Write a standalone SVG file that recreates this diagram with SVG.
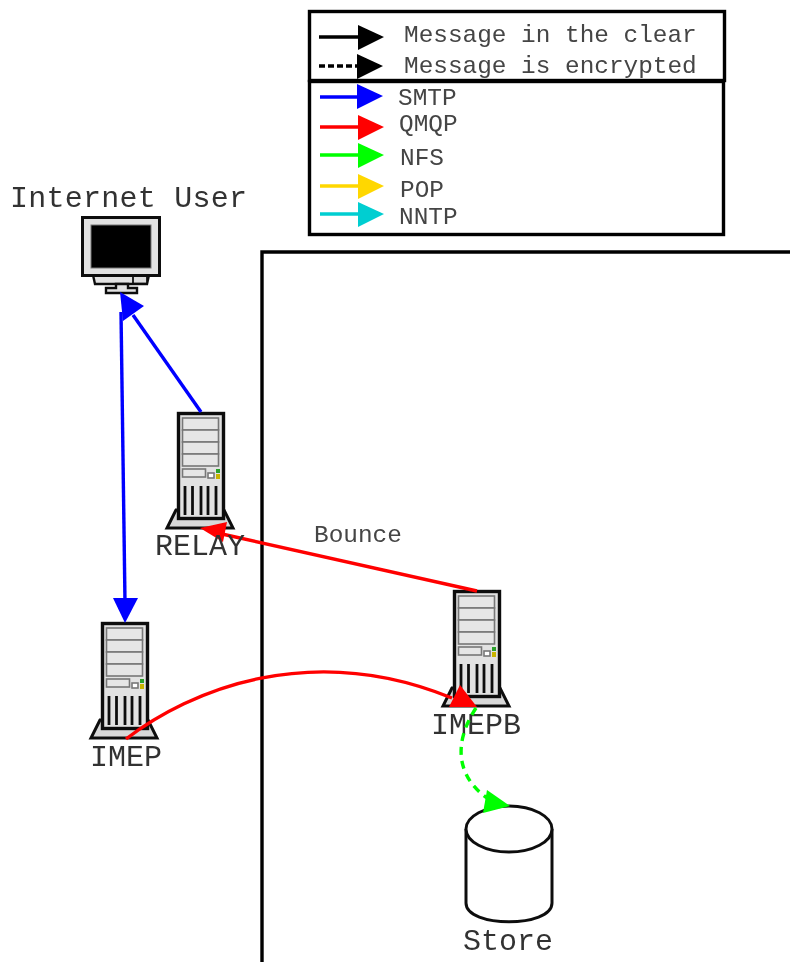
<svg xmlns="http://www.w3.org/2000/svg" xmlns:xlink="http://www.w3.org/1999/xlink" width="790" height="962" viewBox="0 0 790 962">
<style>
text{font-family:"Liberation Mono","DejaVu Sans Mono",monospace;fill:#333}
.lg{font-size:24.4px;fill:#444}
.nm{font-size:30px}
.box{fill:none;stroke:#000;stroke-width:3.400}
.ln{fill:none;stroke-width:3.400}
.o{stroke:#111;stroke-width:2.400;fill:#e2e2e2}
.t{stroke:#111;stroke-width:3.400;fill:#e2e2e2}
.b{stroke:#777;stroke-width:1.600;fill:#e6e6e6}
.s{stroke:#111;stroke-width:2.800;fill:none}
</style>
<defs>
<filter id="soft" x="0" y="0" width="100%" height="100%"><feGaussianBlur stdDeviation="0.45"/></filter>
<g id="server">
<path d="M-1 98L-10 116H56L47 98Z" fill="#d8d8d8" stroke="#111" stroke-width="3"/>
<rect class="t" x="1.500" y="1.500" width="45" height="105"/>
<rect class="b" x="5.500" y="6" width="36" height="12"/>
<rect class="b" x="5.500" y="18" width="36" height="12"/>
<rect class="b" x="5.500" y="30" width="36" height="12"/>
<rect class="b" x="5.500" y="42" width="36" height="12"/>
<rect class="b" x="5.500" y="57" width="23" height="8"/>
<rect class="b" x="31" y="61" width="6" height="5" style="fill:#fff"/>
<rect x="39" y="57" width="4" height="4" fill="#2ca02c"/>
<rect x="39" y="62" width="4" height="5" fill="#c8b400"/>
<path class="s" d="M8 74V103M15.500 74V103M24 74V103M31 74V103M39 74V103"/>
</g>
</defs>
<g filter="url(#soft)">
<rect width="790" height="962" fill="#fff"/>
<g id="network-zone"><path class="box" d="M262 962V252H790"/></g>
<g id="legend-security">
<rect class="box" x="309.500" y="11.500" width="415" height="69"/>
<path class="ln" stroke="#000" d="M319 37H360"/><path d="M358 25L384 37L358 50Z" fill="#000"/>
<path class="ln" stroke="#000" stroke-dasharray="6 3" d="M319 66H358"/><path d="M357 54L383 66L357 79Z" fill="#000"/>
<text class="lg" x="404" y="42">Message in the clear</text>
<text class="lg" x="404" y="73">Message is encrypted</text>
</g>
<g id="legend-protocols">
<rect class="box" x="309.500" y="81.500" width="414" height="153"/>
<path class="ln" stroke="#00f" d="M320 97H360"/><path d="M357 84L383 96L357 109Z" fill="#00f"/>
<path class="ln" stroke="#f00" d="M320 127H360"/><path d="M358 115L384 127L358 140Z" fill="#f00"/>
<path class="ln" stroke="#0f0" d="M320 155H360"/><path d="M358 143L384 155L358 168Z" fill="#0f0"/>
<path class="ln" stroke="#ffd700" d="M320 186H360"/><path d="M358 174L384 186L358 199Z" fill="#ffd700"/>
<path class="ln" stroke="#00ced1" d="M320 214H360"/><path d="M358 202L384 214L358 227Z" fill="#00ced1"/>
<text class="lg" x="398" y="105">SMTP</text>
<text class="lg" x="399" y="131">QMQP</text>
<text class="lg" x="400" y="165">NFS</text>
<text class="lg" x="400" y="197">POP</text>
<text class="lg" x="399" y="224">NNTP</text>
</g>
<g id="internet-user">
<text class="nm" x="10" y="207" textLength="237" lengthAdjust="spacing">Internet User</text>
<path class="o" d="M93 275L95 284H147L149 275Z"/>
<rect x="133" y="276" width="14" height="7.500" fill="#ddd" stroke="#111" stroke-width="1.800"/>
<path class="o" d="M106 293V288H116V284H128V288H137V293Z"/>
<rect x="82.500" y="217.500" width="77" height="58" fill="#e2e2e2" stroke="#111" stroke-width="3"/>
<rect x="91" y="225" width="60" height="43" fill="#000" stroke="#777" stroke-width="1"/>
</g>
<g id="relay"><use xlink:href="#server" href="#server" x="177" y="412"/></g>
<g id="imep"><use xlink:href="#server" href="#server" x="101" y="622"/><text class="nm" x="90" y="766">IMEP</text></g>
<g id="imepb"><use xlink:href="#server" href="#server" x="453" y="590"/><text class="nm" x="431" y="734">IMEPB</text></g>
<g id="store">
<path d="M466 829V903C466 928 552 928 552 903V829" fill="#fff" stroke="#111" stroke-width="3"/>
<ellipse cx="509" cy="829" rx="43" ry="23" fill="#fff" stroke="#111" stroke-width="3"/>
<text class="nm" x="463" y="950">Store</text>
</g>
<g id="connectors">
<path class="ln" stroke="#00f" d="M201 412L133 315"/><path d="M120 292L144 306L123 321Z" fill="#00f"/>
<path class="ln" stroke="#00f" d="M121 312L125 602"/><path d="M113 598H138L125 623Z" fill="#00f"/>
<path class="ln" stroke="#f00" d="M477 591L222 534"/><path d="M200 528L227 522L223 542Z" fill="#f00"/>
<path class="ln" stroke="#f00" d="M126 739C190 690 310 640 452 698"/><path d="M460 685L477 707L449 707Z" fill="#f00"/>
<path class="ln" stroke="#0f0" stroke-dasharray="8 6" d="M476 708C456 738 452 775 490 800"/><path d="M487 790L510 806L483 813Z" fill="#0f0"/>
</g>
<g id="relay-label"><text class="nm" x="155" y="555">RELAY</text></g>
<g id="connector-label"><text class="lg" x="314" y="542">Bounce</text></g>
</g>
</svg>
